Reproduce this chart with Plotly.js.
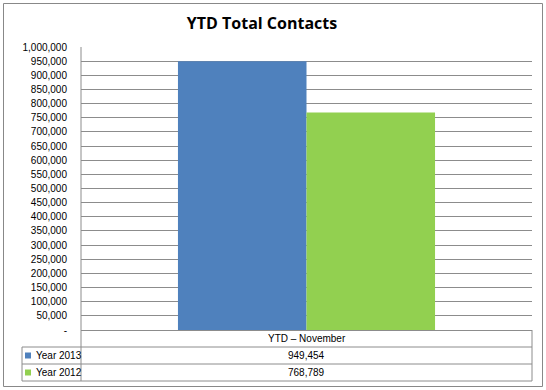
<!DOCTYPE html>
<html>
<head>
<meta charset="utf-8">
<script src="https://cdn.plot.ly/plotly-3.0.1.min.js"></script>
<style>html,body{margin:0;padding:0;background:#fff;}#chart{width:546px;height:390px;}</style>
</head>
<body>
<div id="chart"></div>
<script>
const categories = ['YTD \u2013 November'];
const seriesNames = ['Year 2013', 'Year 2012'];
const values2013 = [949454];
const values2012 = [768789];
const seriesColors = ['#4F81BD', '#92D050'];
const tickValues = [0,50000,100000,150000,200000,250000,300000,350000,400000,450000,500000,550000,600000,650000,700000,750000,800000,850000,900000,950000,1000000];
const tickLabels = ['-','50,000','100,000','150,000','200,000','250,000','300,000','350,000','400,000','450,000','500,000','550,000','600,000','650,000','700,000','750,000','800,000','850,000','900,000','950,000','1,000,000'];

const W = 546, H = 390;
const L = 81, R = 532, T = 47, B = 330;
const px = x => (x - L) / (R - L);
const py = y => (B - y) / (B - T);
const lineCol = '#8c8c8c';
const FONT = 'Liberation Sans, Arial, sans-serif';

const allSeries = [values2013, values2012];
const traces = allSeries.map((vals, i) => ({
  type: 'bar', x: categories, y: vals, name: seriesNames[i],
  marker: {color: seriesColors[i], line: {width: 0}}, hoverinfo: 'none'
}));

const hl = (y, x0, x1) => ({type:'line', xref:'paper', yref:'paper', x0:px(x0), x1:px(x1), y0:py(y), y1:py(y), line:{color:lineCol, width:1}});
const vl = (x, y0, y1) => ({type:'line', xref:'paper', yref:'paper', x0:px(x), x1:px(x), y0:py(y0), y1:py(y1), line:{color:lineCol, width:1}});

const shapes = [
  {type:'rect', xref:'paper', yref:'paper', x0:px(3.5), x1:px(542.5), y0:py(3.5), y1:py(386.5), line:{color:'#888888', width:1}, fillcolor:'rgba(0,0,0,0)', layer:'below'},
  vl(81, 47, 381), vl(532, 330, 381), vl(22, 347, 381),
  hl(347, 22, 532), hl(364, 22, 532), hl(381, 22, 532)
];

const rowY = [355.5, 372.5];
const annotations = [
  {xref:'x', yref:'paper', x:categories[0], y:py(338.5), text:categories[0], showarrow:false, font:{family:FONT, size:10, color:'#000'}, xanchor:'center', yanchor:'middle'}
];
seriesNames.forEach((n, i) => {
  shapes.push({type:'rect', xref:'paper', yref:'paper', x0:px(25), x1:px(31), y0:py(rowY[i]-3), y1:py(rowY[i]+3), line:{width:0}, fillcolor:seriesColors[i]});
  annotations.push({xref:'paper', yref:'paper', x:px(34), y:py(rowY[i]), text:n, showarrow:false, font:{family:FONT, size:10, color:'#000'}, xanchor:'left', yanchor:'middle'});
  annotations.push({xref:'x', yref:'paper', x:categories[0], y:py(rowY[i]), text:allSeries[i][0].toLocaleString('en-US'), showarrow:false, font:{family:FONT, size:10, color:'#000'}, xanchor:'center', yanchor:'middle'});
});

const layout = {
  width: W, height: H,
  margin: {l: L, r: W - R, t: T, b: H - B, pad: 0},
  paper_bgcolor: '#fff', plot_bgcolor: '#fff',
  showlegend: false,
  barmode: 'group', bargap: 0.43, bargroupgap: 0,
  title: {text: '<b>YTD Total Contacts</b>', x: 262/W, xanchor:'center', y: 1 - 23/H, yanchor:'middle', font:{family:'Open Sans, sans-serif', size:16, color:'#000'}},
  xaxis: {showticklabels:false, showgrid:false, zeroline:false, showline:true, linecolor:lineCol, linewidth:1, ticks:'', fixedrange:true},
  yaxis: {range:[0,1000000], tickmode:'array', tickvals:tickValues, ticktext:tickLabels, showgrid:true, gridcolor:lineCol, gridwidth:1, zeroline:false, showline:false, ticks:'outside', ticklen:0, tickfont:{family:FONT, size:10, color:'#000'}, ticklabelstandoff:11, fixedrange:true},
  shapes: shapes,
  annotations: annotations
};

Plotly.newPlot('chart', traces, layout, {displayModeBar:false, staticPlot:true});
</script>
</body>
</html>
